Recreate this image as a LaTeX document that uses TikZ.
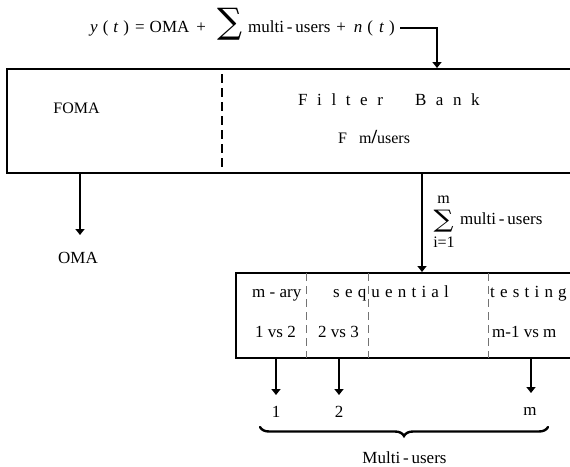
\documentclass[tikz,border=0pt]{standalone}
\usepackage{fontspec}
\usepackage{graphicx}
\setmainfont{Liberation Serif}
\newfontfamily\sigmafont{DejaVu Serif}
\usetikzlibrary{arrows.meta,decorations.pathreplacing}

% gaps for the letter-spaced labels
\newcommand{\wgap}{\hspace{9.6pt}}
\newcommand{\ngap}{\hspace{5.2pt}}
% a stretched summation sign
\newcommand{\bigsigma}[2]{\resizebox*{#1}{#2}{\sigmafont ∑}}

\begin{document}
\begin{tikzpicture}[x=1pt,y=-1pt,
  txt/.style={inner sep=0pt,font=\fontsize{17}{20}\selectfont},
  smalltxt/.style={inner sep=0pt,font=\fontsize{16}{19}\selectfont},
  eqtxt/.style={inner sep=0pt,font=\fontsize{17}{20}\selectfont},
  frame/.style={line width=2pt},
  conn/.style={line width=2pt,-{Triangle[width=9pt,length=6pt]}},
  bigsplit/.style={line width=2.6pt,dash pattern=on 9pt off 5pt},
  smallsplit/.style={line width=1pt,draw=black!55,dash pattern=on 8pt off 5pt},
  usersbrace/.style={line width=2.4pt,line cap=round,decorate,decoration={brace,mirror,amplitude=9pt}}]
\useasboundingbox (0,0) rectangle (570,466);

% received signal
\node[eqtxt,anchor=base west] (eqa) at (90,32)
  {\textit{y}\hspace{5pt}(\hspace{5pt}\textit{t}\hspace{5pt})\hspace{6pt}=\hspace{5pt}OMA\hspace{7pt}+};
\node[inner sep=0pt] (sigA) at (229.5,24) {\bigsigma{25pt}{32pt}};
\node[eqtxt,anchor=base west] (eqb) at (248,32)
  {multi\,-\,users\hspace{6pt}+\hspace{8pt}\textit{n}\hspace{5pt}(\hspace{6pt}\textit{t}\hspace{5pt})};

% filter bank block
\draw[frame] (570,69) -- (7,69) -- (7,173) -- (570,173);
\draw[bigsplit] (222,74) -- (222,173);
\coordinate (fbIn) at (437,68);
\coordinate (fomaOut) at (80,173);
\coordinate (fbOut) at (422,173);

\node[smalltxt,anchor=base] (foma) at (76.5,113) {FOMA};
\node[txt,anchor=base west] (fbank) at (298,105)
  {F\wgap i\wgap l\wgap t\wgap e\wgap r\hspace{32pt}B\wgap a\wgap n\wgap k};
\node[smalltxt,anchor=base west] (fm) at (338,143)
  {F\hspace{12pt}m{\fontsize{20}{20}\selectfont\bfseries /}users};

\draw[conn] (eqb.east) ++(5,0) -| (fbIn);

% OMA branch
\coordinate (omaTip) at (80,235);
\draw[conn] (fomaOut) -- (omaTip);
\node[txt,anchor=base] (oma) at (78,263) {OMA};

% multi-user branch
\coordinate (seqIn) at (422,272);
\draw[conn] (fbOut) -- (seqIn);
\node[smalltxt,anchor=base] (sumTop) at (443.5,203) {m};
\node[inner sep=0pt] (sigB) at (443.5,221) {\bigsigma{20pt}{22pt}};
\node[smalltxt,anchor=base] (sumBot) at (444,247) {i=1};
\node[txt,anchor=base west] (sumLbl) at (460,224) {multi\,-\,users};

% sequential testing block
\draw[frame] (570,273) -- (236,273) -- (236,358) -- (570,358);
\draw[smallsplit] (306,273) -- (306,358);
\draw[smallsplit] (368,273) -- (368,358);
\draw[smallsplit] (488,273) -- (488,358);

\node[txt,anchor=base west] (mary) at (252,297) {m - ary};
\node[txt,anchor=base west] (seq) at (333,297)
  {s\ngap e\ngap q\ngap u\ngap e\ngap n\ngap t\ngap i\ngap a\ngap l};
\node[txt,anchor=base west] (test) at (490,297)
  {t\ngap e\ngap s\ngap t\ngap i\ngap n\ngap g};
\node[txt,anchor=base west] (t12) at (255,337) {1 vs 2};
\node[txt,anchor=base west] (t23) at (318,337) {2 vs 3};
\node[txt,anchor=base west] (tm) at (492,337) {m-1 vs m};

% outputs
\coordinate (o1) at (276,358);
\coordinate (o2) at (339,358);
\coordinate (om) at (531,358);
\coordinate (o1t) at (276,395);
\coordinate (o2t) at (339,395);
\coordinate (omt) at (531,393);
\draw[conn] (o1) -- (o1t);
\draw[conn] (o2) -- (o2t);
\draw[conn] (om) -- (omt);
\node[txt,anchor=base] (u1) at (276,417) {1};
\node[txt,anchor=base] (u2) at (339,417) {2};
\node[txt,anchor=base] (um) at (530,415) {m};

\coordinate (brL) at (260,427);
\coordinate (brR) at (548,427);
\draw[usersbrace] (brL) -- (brR);
\node[txt,anchor=base] (mu) at (404.5,463) {Multi\,-\,users};
\end{tikzpicture}
\end{document}
